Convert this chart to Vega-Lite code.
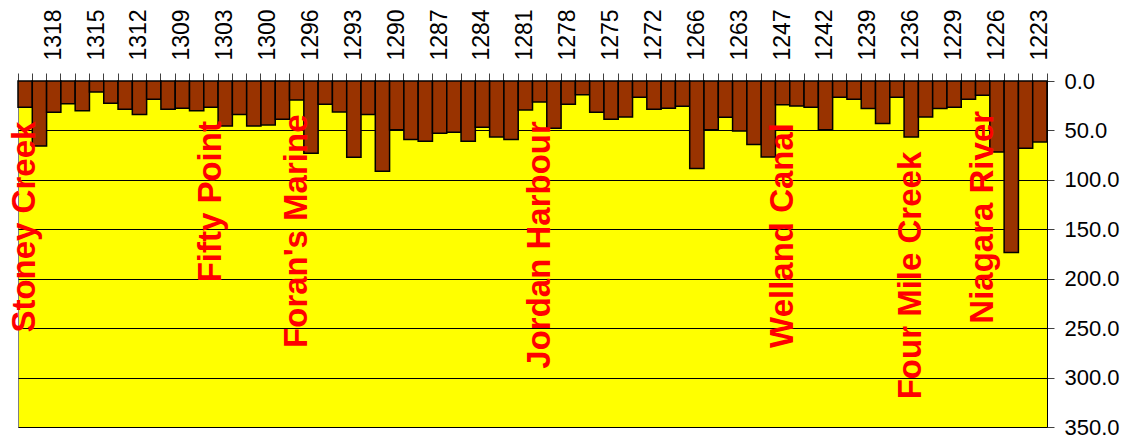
{
  "$schema": "https://vega.github.io/schema/vega-lite/v6.json",
  "autosize": {"type": "none"},
  "padding": {"left": 18, "top": 81, "right": 85, "bottom": 12},
  "width": 1029,
  "height": 346,
  "background": "#ffffff",
  "config": {
    "view": {"fill": "#FFFF00", "stroke": "#808080", "strokeWidth": 1},
    "font": "Liberation Sans"
  },
  "datasets": {
    "depths": [
      {"site": "1320", "depth": 26.6}, {"site": "1319", "depth": 65.7}, {"site": "1318", "depth": 31.6},
      {"site": "1317", "depth": 22.9}, {"site": "1316", "depth": 30.0}, {"site": "1315", "depth": 11.1},
      {"site": "1314", "depth": 22.6}, {"site": "1313", "depth": 28.6}, {"site": "1312", "depth": 34.0},
      {"site": "1311", "depth": 18.5}, {"site": "1310", "depth": 28.6}, {"site": "1309", "depth": 27.6},
      {"site": "1307", "depth": 30.0}, {"site": "1305", "depth": 26.6}, {"site": "1303", "depth": 45.5},
      {"site": "1302", "depth": 34.0}, {"site": "1301", "depth": 45.5}, {"site": "1300", "depth": 44.4},
      {"site": "1298", "depth": 38.7}, {"site": "1297", "depth": 19.2}, {"site": "1296", "depth": 73.1},
      {"site": "1295", "depth": 23.6}, {"site": "1294", "depth": 31.3}, {"site": "1293", "depth": 77.1},
      {"site": "1292", "depth": 34.0}, {"site": "1291", "depth": 91.2}, {"site": "1290", "depth": 49.2},
      {"site": "1289", "depth": 59.3}, {"site": "1288", "depth": 61.0}, {"site": "1287", "depth": 52.9},
      {"site": "1286", "depth": 51.9}, {"site": "1285", "depth": 61.0}, {"site": "1284", "depth": 46.8},
      {"site": "1283", "depth": 56.6}, {"site": "1282", "depth": 59.3}, {"site": "1281", "depth": 29.3},
      {"site": "1280", "depth": 21.2}, {"site": "1279", "depth": 47.8}, {"site": "1278", "depth": 23.6},
      {"site": "1277", "depth": 13.8}, {"site": "1276", "depth": 31.6}, {"site": "1275", "depth": 38.7},
      {"site": "1274", "depth": 36.4}, {"site": "1273", "depth": 16.5}, {"site": "1272", "depth": 28.6},
      {"site": "1270", "depth": 27.6}, {"site": "1268", "depth": 25.6}, {"site": "1266", "depth": 88.6},
      {"site": "1265", "depth": 49.2}, {"site": "1264", "depth": 36.7}, {"site": "1263", "depth": 50.5},
      {"site": "1260", "depth": 64.3}, {"site": "1255", "depth": 76.8}, {"site": "1247", "depth": 23.9},
      {"site": "1245", "depth": 25.3}, {"site": "1243", "depth": 26.6}, {"site": "1242", "depth": 49.2},
      {"site": "1241", "depth": 16.5}, {"site": "1240", "depth": 18.5}, {"site": "1239", "depth": 27.9},
      {"site": "1238", "depth": 43.1}, {"site": "1237", "depth": 16.5}, {"site": "1236", "depth": 56.6},
      {"site": "1233", "depth": 36.4}, {"site": "1231", "depth": 27.9}, {"site": "1229", "depth": 26.6},
      {"site": "1228", "depth": 18.5}, {"site": "1227", "depth": 14.5}, {"site": "1226", "depth": 71.7},
      {"site": "1225", "depth": 173.4}, {"site": "1224", "depth": 68.0}, {"site": "1223", "depth": 61.6}
    ],
    "places": [
      {"site": "1320", "name": "Stoney Creek", "at": 254.5},
      {"site": "1305", "name": "Fifty Point", "at": 203.7},
      {"site": "1297", "name": "Foran's Marine", "at": 270},
      {"site": "1280", "name": "Jordan Harbour", "at": 291},
      {"site": "1247", "name": "Welland Canal", "at": 270},
      {"site": "1236", "name": "Four Mile Creek", "at": 322},
      {"site": "1227", "name": "Niagara River", "at": 245.5}
    ]
  },
  "layer": [
    {
      "data": {"name": "depths"},
      "mark": {"type": "bar", "fill": "#993300", "stroke": "#000000", "strokeWidth": 1.5},
      "encoding": {
        "x": {
          "field": "site", "type": "nominal", "sort": "descending",
          "scale": {"paddingInner": 0, "paddingOuter": 0},
          "axis": {
            "orient": "top", "title": null,
            "labelAngle": 270, "labelAlign": "left", "labelBaseline": "middle",
            "labelFontSize": 23, "labelColor": "#000000", "labelPadding": 13,
            "labelOverlap": false,
            "labelExpr": "indexof(['1318','1315','1312','1309','1303','1300','1296','1293','1290','1287','1284','1281','1278','1275','1272','1266','1263','1247','1242','1239','1236','1229','1226','1223'], datum.label) >= 0 ? datum.label : ''",
            "bandPosition": 1, "tickExtra": true,
            "tickSize": 8, "tickColor": "#404040", "tickWidth": 1,
            "domainColor": "#404040", "domainWidth": 1, "grid": false
          }
        },
        "y": {
          "field": "depth", "type": "quantitative",
          "scale": {"domain": [0, 350], "reverse": true, "nice": false},
          "axis": {
            "orient": "right", "title": null, "format": ".1f",
            "values": [0, 50, 100, 150, 200, 250, 300, 350],
            "labelFontSize": 22, "labelColor": "#000000", "labelPadding": 10,
            "tickSize": 7, "tickColor": "#404040", "domainColor": "#000000",
            "grid": true, "gridColor": "#000000", "gridWidth": 1, "gridOpacity": 1
          }
        }
      }
    },
    {
      "data": {"name": "places"},
      "mark": {"type": "text", "angle": 270, "align": "left", "baseline": "middle",
               "fontSize": 33, "fontWeight": "bold", "fill": "#FF0000", "font": "Liberation Sans"},
      "encoding": {
        "x": {"field": "site", "type": "nominal", "sort": "descending", "band": 0.5},
        "y": {"field": "at", "type": "quantitative"},
        "text": {"field": "name"}
      }
    }
  ]
}
